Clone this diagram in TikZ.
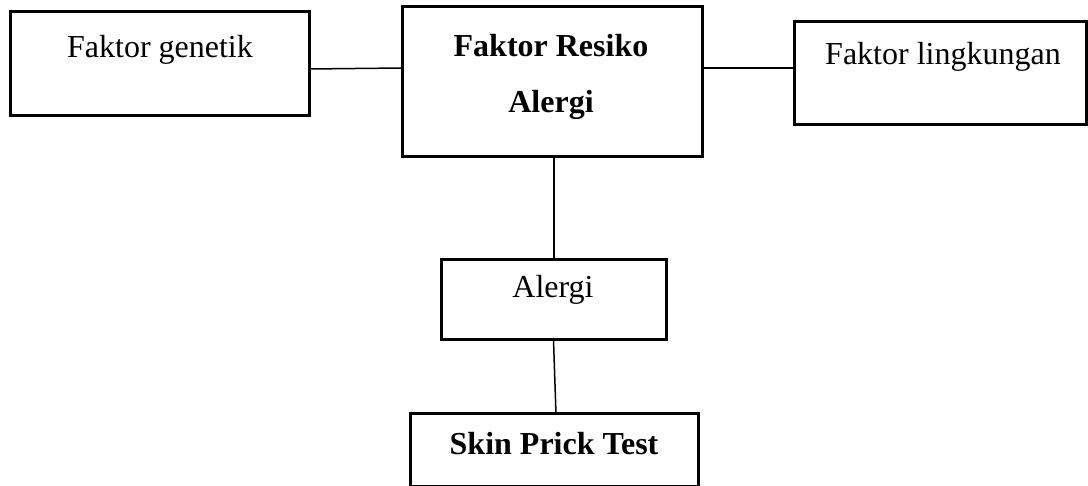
\documentclass[tikz,border=0pt]{standalone}
\usepackage{fontspec}
\setmainfont{Liberation Serif}
\usetikzlibrary{calc}
\begin{document}
\begin{tikzpicture}[x=0.5pt,y=-0.5pt,
  box/.style={draw,line width=1.5pt,rectangle,inner sep=0pt,outer sep=0pt},
  lbl/.style={anchor=base,inner sep=0pt,font=\fontsize{16}{19}\selectfont},
  conn/.style={line width=0.75pt}]
\useasboundingbox (0,0) rectangle (1088,486);
\node[box,minimum width=149.5pt,minimum height=52pt] (gen) at (159.5,64) {};
\node[box,minimum width=150pt,minimum height=75pt] (res) at (552,82) {};
\node[box,minimum width=146pt,minimum height=51.5pt] (lin) at (940,73.5) {};
\node[box,minimum width=112.5pt,minimum height=40pt] (ale) at (553.5,300) {};
\node[box,minimum width=144pt,minimum height=36pt] (skin) at (554,450) {};
\node[lbl] (tgen) at (160,58) {Faktor genetik};
\node[lbl,font=\fontsize{16}{19}\selectfont\bfseries] (tres1) at (551,57) {Faktor Resiko};
\node[lbl,font=\fontsize{16}{19}\selectfont\bfseries] (tres2) at (551,113) {Alergi};
\node[lbl] (tlin) at (943,65) {Faktor lingkungan};
\node[lbl] (tale) at (553,298) {Alergi};
\node[lbl,font=\fontsize{16}{19}\selectfont\bfseries] (tskin) at (554,454) {Skin Prick Test};
\coordinate (h1) at (0,69);
\coordinate (h2) at (0,68);
\coordinate (v1) at (554,0);
\draw[conn] (gen.east |- h1) -- (res.west |- h2);
\draw[conn] (res.east |- h2) -- (lin.west |- h2);
\draw[conn] (res.south -| v1) -- (ale.north -| v1);
\draw[conn] (ale.south) -- ($(skin.north)+(2,0)$);
\end{tikzpicture}
\end{document}
